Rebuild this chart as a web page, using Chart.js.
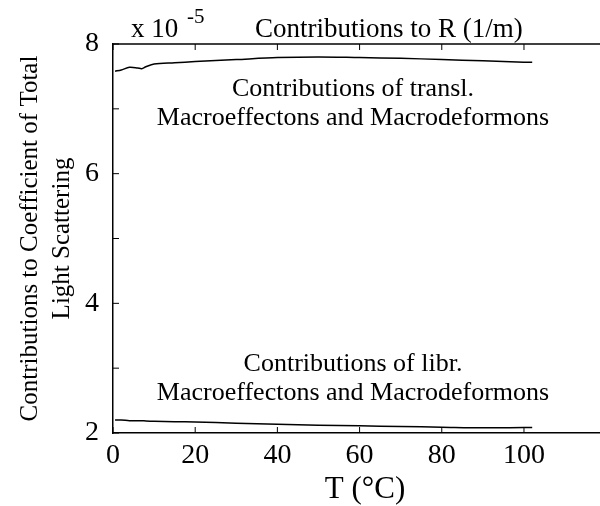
<!DOCTYPE html>
<html>
<head>
<meta charset="utf-8">
<script src="https://cdn.jsdelivr.net/npm/chart.js@4.4.0/dist/chart.umd.min.js"></script>
<style>
  html, body { margin: 0; padding: 0; background: #fff; overflow: hidden; }
  #wrap { width: 600px; height: 506px; }
</style>
</head>
<body>
<div id="wrap"><canvas id="chart"></canvas></div>
<script>
// temperatures (°C) and the two curves, in units of 1e-5 1/m
var temps = [0.5, 2, 4, 6, 7, 8, 10, 15, 20, 30, 40, 50, 60, 70, 80, 90, 100, 102];
var translValues = [7.58, 7.60, 7.64, 7.63, 7.62, 7.65, 7.69, 7.71, 7.73, 7.76, 7.79, 7.80, 7.79, 7.78, 7.76, 7.74, 7.72, 7.72];
var librValues = [2.20, 2.20, 2.19, 2.19, 2.19, 2.185, 2.18, 2.175, 2.17, 2.15, 2.135, 2.12, 2.11, 2.10, 2.09, 2.08, 2.085, 2.085];

var xTicks = [0, 20, 40, 60, 80, 100];
var yTicks = [2, 3, 4, 5, 6, 7, 8];

var serif = "'Liberation Serif', 'DejaVu Serif', serif";

function toPoints(xs, ys) {
	var pts = [];
	for (var i = 0; i < xs.length; i++) {
		pts.push({ x: xs[i], y: ys[i] });
	}
	return pts;
}

// frame, inward ticks and the free text of the figure
var framePlugin = {
	id: "frame",
	afterDraw: function (chart) {
		var ctx = chart.ctx;
		var area = chart.chartArea;
		var xs = chart.scales.x;
		var ys = chart.scales.y;
		ctx.save();
		ctx.strokeStyle = "#000";
		ctx.lineWidth = 1.5;

		// top border
		ctx.beginPath();
		ctx.moveTo(area.left, area.top);
		ctx.lineTo(area.right, area.top);
		ctx.stroke();

		// inward ticks
		ctx.lineWidth = 1;
		ctx.beginPath();
		xTicks.forEach(function (v) {
			var px = xs.getPixelForValue(v);
			ctx.moveTo(px, area.bottom);
			ctx.lineTo(px, area.bottom - 6);
			ctx.moveTo(px, area.top);
			ctx.lineTo(px, area.top + 6);
		});
		yTicks.forEach(function (v) {
			var py = ys.getPixelForValue(v);
			ctx.moveTo(area.left, py);
			ctx.lineTo(area.left + 6, py);
		});
		ctx.stroke();

		ctx.fillStyle = "#000";
		ctx.textBaseline = "alphabetic";

		// exponent and title
		ctx.textAlign = "left";
		ctx.font = "27px " + serif;
		ctx.fillText("x 10", 131, 37);
		ctx.font = "21px " + serif;
		ctx.fillText("-5", 187, 23);
		ctx.font = "27px " + serif;
		ctx.fillText("Contributions to R (1/m)", 255, 37);

		// curve labels
		ctx.textAlign = "center";
		ctx.font = "26px " + serif;
		ctx.fillText("Contributions of transl.", 353, 96);
		ctx.fillText("Macroeffectons and Macrodeformons", 353, 125);
		ctx.fillText("Contributions of libr.", 353, 371);
		ctx.fillText("Macroeffectons and Macrodeformons", 353, 400);

		// x axis title
		ctx.font = "31px " + serif;
		ctx.fillText("T (\u00B0C)", 365, 498);
		ctx.restore();
	}
};

var ctx = document.getElementById("chart");

var data = {
	datasets: [{
			label: "transl.",
			data: toPoints(temps, translValues),
			borderColor: "#000",
			borderWidth: 1.5,
			fill: false,
			tension: 0.3,
			pointRadius: 0
		},
		{
			label: "libr.",
			data: toPoints(temps, librValues),
			borderColor: "#000",
			borderWidth: 1.5,
			fill: false,
			tension: 0.3,
			pointRadius: 0
		}
	]
};

var options = {
	responsive: true,
	maintainAspectRatio: false,
	animation: false,
	layout: {
		padding: { top: 44, right: 0, bottom: 0, left: 0 }
	},
	plugins: {
		legend: { display: false },
		tooltip: { enabled: false }
	},
	scales: {
		x: {
			type: "linear",
			min: 0,
			max: 118.5,
			afterBuildTicks: function (scale) {
				scale.ticks = xTicks.map(function (v) { return { value: v }; });
			},
			afterFit: function (scale) {
				scale.height = 73;
			},
			ticks: {
				color: "#000",
				font: { family: serif, size: 28 },
				padding: 6,
				maxRotation: 0
			},
			grid: { display: true, drawOnChartArea: false, drawTicks: false },
			border: { display: true, color: "#000", width: 1.5 }
		},
		y: {
			type: "linear",
			min: 2,
			max: 8,
			afterBuildTicks: function (scale) {
				scale.ticks = yTicks.map(function (v) { return { value: v }; });
			},
			afterFit: function (scale) {
				scale.width = 113;
			},
			ticks: {
				color: "#000",
				font: { family: serif, size: 28 },
				padding: 14,
				callback: function (value) {
					return value % 2 === 0 ? String(value) : "";
				}
			},
			grid: { display: true, drawOnChartArea: false, drawTicks: false },
			border: { display: true, color: "#000", width: 1.5 },
			title: {
				display: true,
				text: ["Contributions to Coefficient of Total", "Light Scattering"],
				color: "#000",
				font: { family: serif, size: 25, lineHeight: 1.3 },
				padding: { top: 14, bottom: 0 }
			}
		}
	}
};

var chart = new Chart(ctx, {
	type: "line",
	data: data,
	options: options,
	plugins: [framePlugin]
});
</script>
</body>
</html>
